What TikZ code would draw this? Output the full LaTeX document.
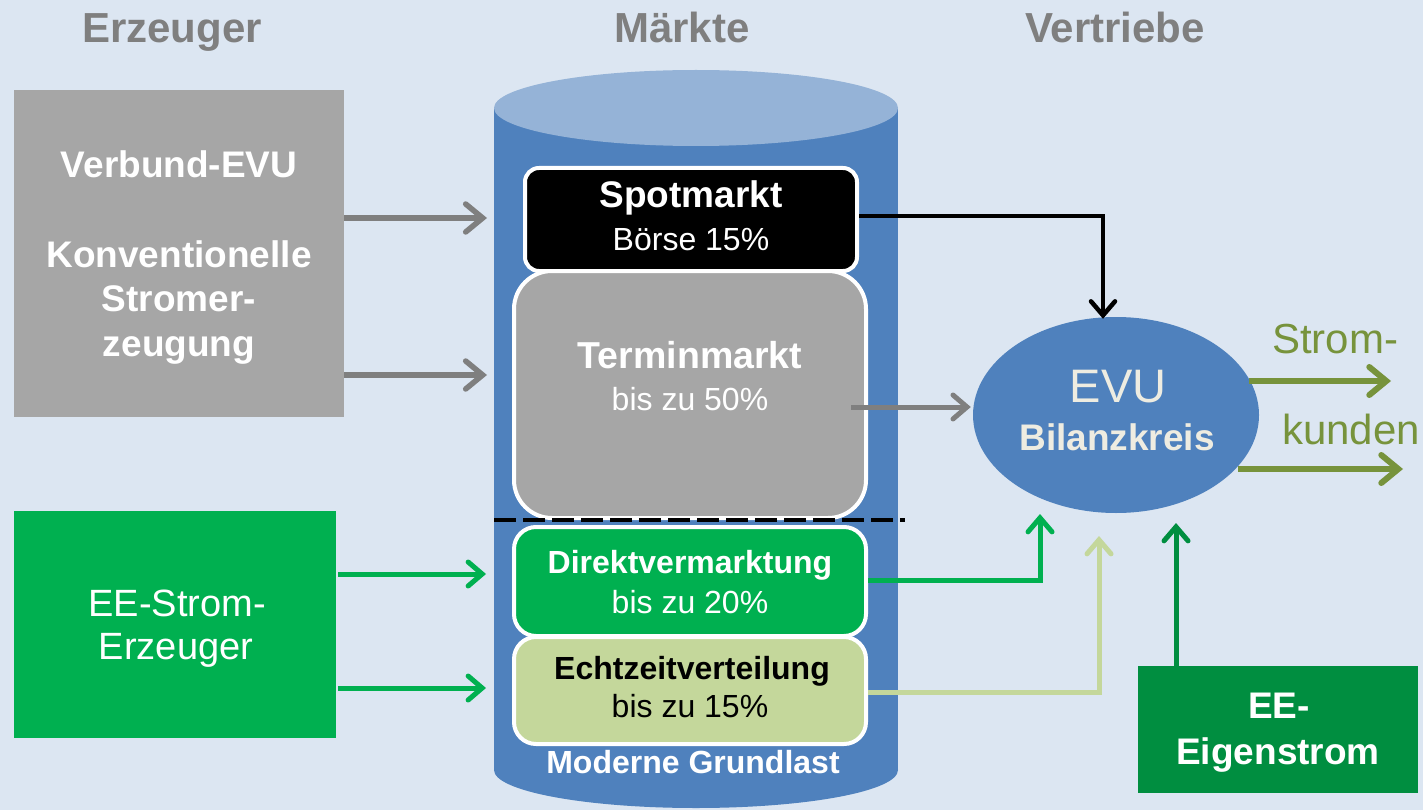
\documentclass[tikz,border=0pt]{standalone}
\usepackage{fontspec}
\setmainfont{Liberation Sans}
\usetikzlibrary{arrows.meta,calc,shapes.geometric}
\definecolor{bgc}{HTML}{DCE6F2}
\definecolor{hdrgray}{HTML}{7F7F7F}
\definecolor{boxgray}{HTML}{A6A6A6}
\definecolor{arrgray}{HTML}{7F7F7F}
\definecolor{cylbody}{HTML}{4F81BD}
\definecolor{cyltop}{HTML}{95B3D7}
\definecolor{eegreen}{HTML}{00B050}
\definecolor{lightgreen}{HTML}{C4D79B}
\definecolor{darkgreen}{HTML}{008E40}
\definecolor{olive}{HTML}{77933C}
\definecolor{cream}{HTML}{EEECE1}
\newcommand{\fsz}[2]{\fontsize{#1}{#2}\selectfont}
\begin{document}
\begin{tikzpicture}[x=1pt,y=-1pt,
  hdr/.style={anchor=base,text=hdrgray,font=\bfseries\fsz{42}{48}},
  srcbox/.style={rectangle,inner sep=0pt,draw=none},
  mbox/.style={rectangle,rounded corners=14pt,draw=white,line width=4pt,inner sep=0pt},
  txt/.style={anchor=base,inner sep=0pt},
  conn/.style={line width=5pt,-{Straight Barb[length=14pt,width=24pt,line cap=round]}},
  bigconn/.style={line width=5.5pt,-{Straight Barb[length=17pt,width=28pt,line cap=round]}},
]
\fill[bgc] (0,0) rectangle (1423,810);
\useasboundingbox (0,0) rectangle (1423,810);

% headers
\node[hdr] (h1) at (172,43) {Erzeuger};
\node[hdr] (h2) at (682,43) {Märkte};
\node[hdr] (h3) at (1115,43) {Vertriebe};

% cylinder
\fill[cylbody] (494,108) rectangle (898,770);
\fill[cylbody] (696,770) ellipse [x radius=202pt, y radius=38pt];
\fill[cyltop] (696,108) ellipse [x radius=202pt, y radius=38pt];

% market boxes
\node[mbox,fill=black,minimum width=332pt,minimum height=103pt] (spot) at (691,219.5) {};
\node[txt,text=white,font=\bfseries\fsz{37}{40}] (spotT) at (691,208) {Spotmarkt};
\node[txt,text=white,font=\fsz{32}{36}] (spotS) at (691,251) {Börse 15\%};

\node[mbox,fill=boxgray,rounded corners=38pt,minimum width=352pt,minimum height=247pt] (termin) at (690,394.5) {};
\node[txt,text=white,font=\bfseries\fsz{37.5}{40}] (terminT) at (690,368) {Terminmarkt};
\node[txt,text=white,font=\fsz{32}{36}] (terminS) at (690,410) {bis zu 50\%};

\draw[line width=3.5pt,dash pattern=on 22pt off 7pt] (494,520) -- (905,520);

\node[mbox,fill=eegreen,rounded corners=22pt,minimum width=352pt,minimum height=109pt] (direkt) at (690,581.5) {};
\node[txt,text=white,font=\bfseries\fsz{32}{36}] (direktT) at (690,573) {Direktvermarktung};
\node[txt,text=white,font=\fsz{32}{36}] (direktS) at (690,613) {bis zu 20\%};

\node[mbox,fill=lightgreen,rounded corners=22pt,minimum width=352pt,minimum height=107pt] (echt) at (690,690.5) {};
\node[txt,text=black,font=\bfseries\fsz{32}{36}] (echtT) at (692,679) {Echtzeitverteilung};
\node[txt,text=black,font=\fsz{32}{36}] (echtS) at (690,717) {bis zu 15\%};

\node[txt,text=white,font=\bfseries\fsz{32}{34}] (grund) at (693,773) {Moderne Grundlast};

% source boxes
\node[srcbox,fill=boxgray,minimum width=330pt,minimum height=327pt] (verb) at (179,253.5) {};
\node[txt,text=white,font=\bfseries\fsz{37}{40}] (verbT1) at (179,178) {Verbund-EVU};
\node[txt,text=white,font=\bfseries\fsz{37}{40}] (verbT2) at (179,267) {Konventionelle};
\node[txt,text=white,font=\bfseries\fsz{37}{40}] (verbT3) at (179,311.5) {Stromer-};
\node[txt,text=white,font=\bfseries\fsz{37}{40}] (verbT4) at (179,356) {zeugung};

\node[srcbox,fill=eegreen,minimum width=322pt,minimum height=227pt] (ee) at (175,624.5) {};
\node[txt,text=white,font=\fsz{38}{44}] (eeT1) at (177,616) {EE-Strom-};
\node[txt,text=white,font=\fsz{38}{44}] (eeT2) at (176,659) {Erzeuger};

\node[srcbox,fill=darkgreen,minimum width=280pt,minimum height=127pt] (eigen) at (1278,729.5) {};
\node[txt,text=white,font=\bfseries\fsz{37}{42}] (eigenT1) at (1279,718) {EE-};
\node[txt,text=white,font=\bfseries\fsz{37}{42}] (eigenT2) at (1278,764) {Eigenstrom};

% EVU ellipse
\node[ellipse,fill=cylbody,inner sep=0pt,minimum width=286pt,minimum height=196pt] (evu) at (1116,415) {};
\node[txt,text=cream,font=\fsz{47}{52}] (evuT) at (1118,402) {EVU};
\node[txt,text=cream,font=\bfseries\fsz{37}{42}] (evuS) at (1117,450) {Bilanzkreis};

% coordinates for free ends
\coordinate (cyl1) at (487,218);
\coordinate (cyl2) at (487,375);
\coordinate (cyl3) at (486,574);
\coordinate (cyl4) at (486,688);
\coordinate (d1) at (1040,514);
\coordinate (d2) at (1099,536);
\coordinate (d3) at (1176,523);
\coordinate (o1) at (1391,381);
\coordinate (o2) at (1403,469);

% connectors
\draw[bigconn,arrgray] (verb.east |- cyl1) -- (cyl1);
\draw[bigconn,arrgray] (verb.east |- cyl2) -- (cyl2);
\draw[conn,eegreen] (ee.east |- cyl3) ++(2,0) -- (cyl3);
\draw[conn,eegreen] (ee.east |- cyl4) ++(2,0) -- (cyl4);

\draw[conn,black,line width=4.5pt] (spot.east |- 0,216) -| ([xshift=-13pt,yshift=-2pt]evu.north);
\draw[conn,arrgray] (851,407) -- ([xshift=-2pt]evu.west |- 0,407);
\draw[conn,eegreen] (direkt.east |- 0,580) -| (d1);
\draw[conn,lightgreen] (echt.east |- 0,692) -| (d2);
\draw[conn,darkgreen] (eigen.north -| d3) -- (d3);

\draw[bigconn,olive,line width=6pt] (evu.east |- o1) ++(-10,0) -- (o1);
\draw[bigconn,olive,line width=6pt] (evu.east |- o2) ++(-21,0) -- (o2);

\node[txt,text=olive,font=\fsz{42}{48}] (strom) at (1335,353) {Strom-};
\node[txt,text=olive,font=\fsz{42}{48}] (kunden) at (1351,444) {kunden};
\end{tikzpicture}
\end{document}
